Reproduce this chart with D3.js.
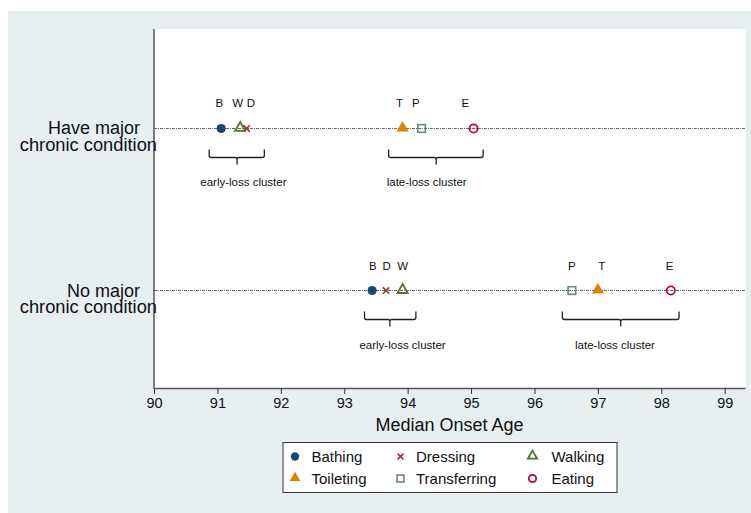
<!DOCTYPE html>
<html><head><meta charset="utf-8">
<script src="https://cdn.jsdelivr.net/npm/d3@7"></script>
<style>html,body{margin:0;padding:0;background:#fff;}svg{display:block;font-family:"Liberation Sans",Arial,Helvetica,sans-serif;}</style>
</head><body>
<svg id="c" width="751" height="513"></svg>
<script>
// ---- data ----
const groups = ["Have major chronic condition", "No major chronic condition"];
const groupLines = [["Have major", "chronic condition"], ["No major", "chronic condition"]];
const activities = ["Bathing", "Dressing", "Walking", "Toileting", "Transferring", "Eating"];
const letters = ["B", "D", "W", "T", "P", "E"];
const onsetHaveMajor = [91.06, 91.46, 91.36, 93.92, 94.22, 95.04];
const onsetNoMajor = [93.44, 93.66, 93.92, 97.00, 96.59, 98.15];
const letterPosHaveMajor = [91.03, 91.53, 91.32, 93.87, 94.13, 94.91];
const letterPosNoMajor = [93.45, 93.67, 93.92, 97.06, 96.59, 98.13];
const clusterNames = ["early-loss cluster", "late-loss cluster"];
const clusterStartHave = [90.87, 93.70];
const clusterEndHave = [91.74, 95.19];
const clusterTipHave = [91.31, 94.45];
const clusterLabelHave = [91.41, 94.30];
const clusterStartNo = [93.32, 96.44];
const clusterEndNo = [94.13, 98.28];
const clusterTipNo = [93.72, 97.36];
const clusterLabelNo = [93.92, 97.27];
const xTicks = [90, 91, 92, 93, 94, 95, 96, 97, 98, 99];
const xTitle = "Median Onset Age";

// ---- styles ----
const colors = {Bathing:"#1a476f", Dressing:"#90353b", Walking:"#55752f", Toileting:"#e37e00", Transferring:"#6e8e84", Eating:"#c10534"};
const svg = d3.select("#c");
const plot = {l:154, r:745, t:29, b:388};

svg.append("rect").attr("x",8).attr("y",11).attr("width",743).attr("height",502).attr("fill","#e7eff1");
svg.append("rect").attr("x",plot.l).attr("y",plot.t).attr("width",746-plot.l).attr("height",plot.b-plot.t).attr("fill","#fff");

const x = d3.scaleLinear().domain([90, 99.32]).range([plot.l, plot.r]);
const y = d3.scalePoint().domain(groups).range([plot.t, plot.b + 2]).padding(0.614);

// row lines
svg.selectAll(".rowline").data(groups).join("line")
  .attr("x1",plot.l).attr("x2",plot.r).attr("y1",d=>y(d)).attr("y2",d=>y(d))
  .attr("stroke","#666").attr("stroke-width",1).attr("stroke-dasharray","3,1,1,1");

// axes
const xAxis = d3.axisBottom(x).tickValues(xTicks).tickSize(6).tickSizeOuter(0).tickFormat(d3.format("d"));
const gx = svg.append("g").attr("transform",`translate(0,${plot.b})`).call(xAxis);
gx.select(".domain").attr("stroke","#555").attr("stroke-width",1.5);
gx.selectAll(".tick line").attr("stroke","#333");
gx.selectAll(".tick text").attr("font-size",14.5).attr("fill","#111").attr("dy","0.72em").attr("y",10)
  .attr("font-family","'Liberation Sans',Arial,sans-serif");
svg.append("line").attr("x1",plot.l).attr("x2",plot.l).attr("y1",plot.t).attr("y2",plot.b+0.75)
  .attr("stroke","#555").attr("stroke-width",1.5);

svg.append("text").attr("x",(plot.l+plot.r)/2).attr("y",431).attr("text-anchor","middle")
  .attr("font-size",18).attr("fill","#111").text(xTitle);

// y labels
groups.forEach((g,i)=>{
  const yy = y(g);
  svg.append("text").attr("x",140).attr("y",yy+6).attr("text-anchor","end").attr("font-size",18).attr("fill","#111").text(groupLines[i][0]);
  svg.append("text").attr("x",157).attr("y",yy+22.5).attr("text-anchor","end").attr("font-size",18.3).attr("fill","#111").text(groupLines[i][1]);
});

// markers
function marker(sel, act, s) {
  const c = colors[act];
  if (act === "Bathing") sel.append("circle").attr("r",4.6*s).attr("fill",c);
  else if (act === "Eating") sel.append("circle").attr("r",4.1*s).attr("fill","none").attr("stroke",c).attr("stroke-width",1.8);
  else if (act === "Toileting") sel.append("path").attr("d",d3.symbol(d3.symbolTriangle, 62*s*s)()).attr("fill",c).attr("transform","translate(0,-0.5)");
  else if (act === "Walking") sel.append("path").attr("d",d3.symbol(d3.symbolTriangle, 46*s*s)()).attr("fill","none").attr("stroke",c).attr("stroke-width",1.8).attr("transform","translate(0,-0.5)");
  else if (act === "Transferring") sel.append("rect").attr("x",-3.8*s).attr("y",-3.8*s).attr("width",7.6*s).attr("height",7.6*s).attr("fill","none").attr("stroke",c).attr("stroke-width",1.7);
  else if (act === "Dressing") {
    const k = 3.2*s;
    sel.append("path").attr("d",`M${-k},${-k}L${k},${k}M${-k},${k}L${k},${-k}`).attr("stroke",c).attr("stroke-width",1.6).attr("fill","none");
  }
}

const rows = [
  {g:groups[0], vals:onsetHaveMajor, lpos:letterPosHaveMajor, cs:clusterStartHave, ce:clusterEndHave, ct:clusterTipHave, cl:clusterLabelHave},
  {g:groups[1], vals:onsetNoMajor, lpos:letterPosNoMajor, cs:clusterStartNo, ce:clusterEndNo, ct:clusterTipNo, cl:clusterLabelNo}
];
const drawOrder = ["Eating","Transferring","Toileting","Dressing","Walking","Bathing"];
rows.forEach(r=>{
  const yy = y(r.g);
  drawOrder.forEach(act=>{
    const i = activities.indexOf(act);
    const g = svg.append("g").attr("transform",`translate(${x(r.vals[i])},${yy})`);
    marker(g, act, 1);
  });
  activities.forEach((act,i)=>{
    svg.append("text").attr("x",x(r.lpos[i])).attr("y",yy-21).attr("text-anchor","middle")
      .attr("font-size",11.5).attr("fill","#111").text(letters[i]);
  });
  // braces
  clusterNames.forEach((name,j)=>{
    const x0 = x(r.cs[j]), x1 = x(r.ce[j]), xm = x(r.ct[j]);
    const top = yy+21, mid = yy+29, tip = yy+36, rr = 2;
    const p = `M${x0},${top}L${x0},${mid-rr}Q${x0},${mid} ${x0+rr},${mid}L${xm-rr},${mid}Q${xm},${mid} ${xm},${mid+rr}L${xm},${tip}`+
              `M${xm},${mid+rr}Q${xm},${mid} ${xm+rr},${mid}L${x1-rr},${mid}Q${x1},${mid} ${x1},${mid-rr}L${x1},${top}`;
    svg.append("path").attr("d",p).attr("fill","none").attr("stroke","#222").attr("stroke-width",1.3);
    svg.append("text").attr("x",x(r.cl[j])).attr("y",yy+58).attr("text-anchor","middle")
      .attr("font-size",11.5).attr("fill","#111").text(name);
  });
});

// legend
const lg = svg.append("g");
lg.append("rect").attr("x",283).attr("y",442.5).attr("width",334).attr("height",50).attr("fill","#fff").attr("stroke","#333").attr("stroke-width",1);
const legOrder = ["Bathing","Dressing","Walking","Toileting","Transferring","Eating"];
const colMark = [295, 400.5, 532.5], colText = [311.5, 416, 551.5], rowY = [456.5, 478.5];
legOrder.forEach((act,i)=>{
  const c = i%3, rI = Math.floor(i/3);
  const g = lg.append("g").attr("transform",`translate(${colMark[c]},${rowY[rI]})`);
  marker(g, act, 0.9);
  lg.append("text").attr("x",colText[c]).attr("y",rowY[rI]+5.5).attr("font-size",15).attr("fill","#111").text(act);
});
</script>
</body></html>
